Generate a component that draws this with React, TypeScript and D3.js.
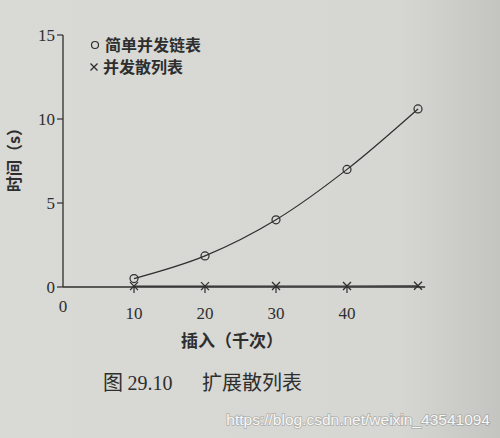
import * as d3 from "d3";

// values
const inserts = [10, 20, 30, 40, 50];
const linkedListTimes = [0.5, 1.85, 4.0, 7.0, 10.6];
const hashTableTimes = [0.05, 0.05, 0.06, 0.06, 0.07];
const yTicks = [0, 5, 10, 15];
const xTicks = [10, 20, 30, 40];
const legendLabels = ["简单并发链表", "并发散列表"];

const width = 500, height = 438;
const x = d3.scaleLinear().domain([0, 50]).range([63, 418]);
const y = d3.scaleLinear().domain([0, 15]).range([287, 35]);

const ink = "#2e2e2e";
const serif = "'Liberation Serif', 'DejaVu Serif', serif";
const cjk = "'Noto Sans CJK SC', sans-serif";
const sans = "'Liberation Sans', Arial, sans-serif";
const watermark = "https://blog.csdn.net/weixin_43541094";

const App = () => {
  const circlePts = inserts.map((d, i) => [x(d), y(linkedListTimes[i])] as [number, number]);
  const crossPts = inserts.map((d, i) => [x(d), y(hashTableTimes[i])] as [number, number]);
  const smooth = d3.line().curve(d3.curveMonotoneX);
  const straight = d3.line();

  const cross = (cx: number, cy: number, r = 4) =>
    `M${cx - r},${cy - r}L${cx + r},${cy + r}M${cx - r},${cy + r}L${cx + r},${cy - r}`;

  return (
    <svg width={width} height={height} style={{ position: "absolute", left: 0, top: 0 }}>
      <defs>
        <linearGradient id="paper" x1="0" x2="1" y1="0" y2="0">
          <stop offset="0" stopColor="#d9d9d5" />
          <stop offset="0.8" stopColor="#d6d6d2" />
          <stop offset="1" stopColor="#c4c4c0" />
        </linearGradient>
      </defs>
      <rect width={width} height={height} fill="url(#paper)" />

      {/* y axis */}
      <line x1={x(0)} x2={x(0)} y1={y(0)} y2={y(15)} stroke={ink} strokeWidth={1.3} />
      {yTicks.map(t => (
        <g key={t}>
          <line x1={x(0) - 6} x2={x(0)} y1={y(t)} y2={y(t)} stroke={ink} strokeWidth={1.2} />
          <text x={x(0) - 8} y={y(t)} dy="0.35em" textAnchor="end" fontFamily={serif}
            fontSize={17} fill={ink}>{t}</text>
        </g>
      ))}

      {/* x axis */}
      <line x1={x(0)} x2={x(51)} y1={y(0)} y2={y(0)} stroke={ink} strokeWidth={1.3} />
      <text x={x(0)} y={y(0) + 25} textAnchor="middle" fontFamily={serif} fontSize={17} fill={ink}>0</text>
      {xTicks.map(t => (
        <g key={t}>
          <line x1={x(t)} x2={x(t)} y1={y(0)} y2={y(0) + 6} stroke={ink} strokeWidth={1.2} />
          <text x={x(t)} y={y(0) + 32} textAnchor="middle" fontFamily={serif}
            fontSize={17} fill={ink}>{t}</text>
        </g>
      ))}

      {/* series */}
      <path d={smooth(circlePts) ?? ""} fill="none" stroke={ink} strokeWidth={1.2} />
      {circlePts.map(([cx, cy], i) => (
        <circle key={i} cx={cx} cy={cy} r={4} fill="none" stroke={ink} strokeWidth={1.2} />
      ))}
      <path d={straight(crossPts) ?? ""} fill="none" stroke={ink} strokeWidth={1.2} />
      {crossPts.map(([cx, cy], i) => (
        <path key={i} d={cross(cx, cy)} stroke={ink} strokeWidth={1.3} />
      ))}

      {/* legend */}
      <circle cx={95} cy={45} r={3.5} fill="none" stroke={ink} strokeWidth={1.2} />
      <text x={105} y={51} fontFamily={cjk} fontWeight={700} fontSize={16} fill={ink}>{legendLabels[0]}</text>
      <path d={cross(94, 67, 3.5)} stroke={ink} strokeWidth={1.3} />
      <text x={103} y={73} fontFamily={cjk} fontWeight={700} fontSize={16} fill={ink}>{legendLabels[1]}</text>

      {/* axis titles */}
      <text transform="translate(20,156) rotate(-90)" textAnchor="middle" fontFamily={cjk}
        fontWeight={700} fontSize={16} fill={ink}>时间（s）</text>
      <text x={232} y={347} textAnchor="middle" fontFamily={cjk} fontWeight={700}
        fontSize={17} fill={ink}>插入（千次）</text>

      {/* caption */}
      <text x={103} y={390} fontFamily={cjk} fontSize={20} fill={ink}>
        图 <tspan fontFamily={serif}>29.10</tspan>
      </text>
      <text x={202} y={390} fontFamily={cjk} fontSize={20} fill={ink}>扩展散列表</text>

      {/* watermark */}
      <text x={490} y={425} textAnchor="end" fontFamily={sans} fontSize={15.5}
        fill="none" stroke="#8a8a88" strokeWidth={1.6} opacity={0.5}>{watermark}</text>
      <text x={490} y={425} textAnchor="end" fontFamily={sans} fontSize={15.5}
        fill="#f7f7f5">{watermark}</text>
    </svg>
  );
};

export default App;
